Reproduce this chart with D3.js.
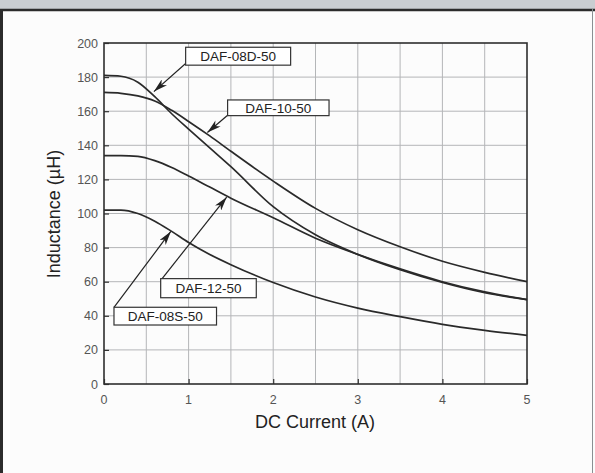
<!DOCTYPE html>
<html>
<head>
<meta charset="utf-8">
<script src="https://cdn.jsdelivr.net/npm/d3@7"></script>
<style>
  body { margin: 0; background: #fff; }
  svg { display: block; }
</style>
</head>
<body>
<div id="chart"></div>
<script>
// measured currents (A) shared by all curves
var currentA = [0, 0.2, 0.4, 0.6, 0.8, 1.0, 1.25, 1.5, 2, 2.5, 3, 3.5, 4, 4.5, 5];

// inductance (uH) for each part
var daf08D = [181, 180.5, 177, 168.5, 158.5, 149.5, 138.5, 127.5, 104, 87.5, 76, 67, 59.5, 53.5, 49.5];
var daf10  = [171, 170.5, 169, 166, 160.5, 154, 145.5, 136.5, 119, 103, 90.5, 80.5, 72, 65.5, 60];
var daf12  = [134, 134, 133.5, 131, 127, 122, 115.5, 109, 97.5, 85.5, 76, 67.5, 60, 54, 49.5];
var daf08S = [102, 102, 100, 95.5, 89.5, 83, 76, 70, 59.5, 51, 44.5, 39.5, 35, 31.5, 28.5];

var seriesNames = ["DAF-08D-50", "DAF-10-50", "DAF-12-50", "DAF-08S-50"];
var seriesValues = [daf08D, daf10, daf12, daf08S];

var xTicks = [0, 1, 2, 3, 4, 5];
var yTicks = [0, 20, 40, 60, 80, 100, 120, 140, 160, 180, 200];

// callout boxes, in data units: [x0, x1, yTop, yBottom], arrow from -> tip
var calloutBox  = [[0.965, 2.206, 197.5, 187], [1.461, 2.66, 166.6, 157.4], [0.67, 1.80, 61.8, 50.6], [0.118, 1.33, 45, 34.6]];
var calloutFrom = [[0.965, 188], [1.461, 157.6], [0.68, 61.4], [0.118, 44.9]];
var calloutTip  = [[0.59, 171.5], [1.222, 147.5], [1.45, 109.6], [0.79, 89.5]];

var W = 595, H = 473;
var svg = d3.select("#chart").append("svg")
    .attr("width", W).attr("height", H);

// page frame
svg.append("rect").attr("width", W).attr("height", H).attr("fill", "#fcfcfc");
svg.append("rect").attr("width", W).attr("height", 9).attr("fill", "#c9cdd1");
svg.append("line").attr("x1", 0).attr("x2", W).attr("y1", 10).attr("y2", 10)
    .attr("stroke", "#2b2b2b").attr("stroke-width", 2.5);
svg.append("line").attr("x1", 1.5).attr("x2", 1.5).attr("y1", 9).attr("y2", H)
    .attr("stroke", "#2b2b2b").attr("stroke-width", 3);
svg.append("line").attr("x1", 592.5).attr("x2", 592.5).attr("y1", 9).attr("y2", H)
    .attr("stroke", "#8a8f92").attr("stroke-width", 1);

var x = d3.scaleLinear().domain([0, 5]).range([104, 527]);
var y = d3.scaleLinear().domain([0, 200]).range([384, 43]);

var g = svg.append("g");

// grid
g.selectAll(".vgrid").data(d3.range(0.5, 5, 0.5)).enter().append("line")
    .attr("x1", function(d) { return x(d); }).attr("x2", function(d) { return x(d); })
    .attr("y1", y(0)).attr("y2", y(200))
    .attr("stroke", "#b4b6b8").attr("stroke-width", 1);
g.selectAll(".hgrid").data(yTicks.slice(1, -1)).enter().append("line")
    .attr("x1", x(0)).attr("x2", x(5))
    .attr("y1", function(d) { return y(d); }).attr("y2", function(d) { return y(d); })
    .attr("stroke", "#b4b6b8").attr("stroke-width", 1);

// axes with inward ticks
var xAxis = g.append("g").attr("transform", "translate(0," + y(0) + ")")
    .call(d3.axisTop(x).tickValues(xTicks).tickSize(5).tickFormat(""));
var yAxis = g.append("g").attr("transform", "translate(" + x(0) + ",0)")
    .call(d3.axisRight(y).tickValues(yTicks).tickSize(5).tickFormat(""));
[xAxis, yAxis].forEach(function(a) {
    a.select(".domain").remove();
    a.selectAll("line").attr("stroke", "#333").attr("stroke-width", 1.2);
});

g.append("rect")
    .attr("x", x(0)).attr("y", y(200))
    .attr("width", x(5) - x(0)).attr("height", y(0) - y(200))
    .attr("fill", "none").attr("stroke", "#2e2e2e").attr("stroke-width", 1.6);

// tick labels
g.selectAll(".xl").data(xTicks).enter().append("text")
    .attr("x", function(d) { return x(d); }).attr("y", 404)
    .attr("text-anchor", "middle")
    .attr("font-family", "Liberation Sans, Arial, sans-serif").attr("font-size", 12.5)
    .attr("fill", "#555").text(function(d) { return d; });
g.selectAll(".yl").data(yTicks).enter().append("text")
    .attr("x", 98).attr("y", function(d) { return y(d) + 4.5; })
    .attr("text-anchor", "end")
    .attr("font-family", "Liberation Sans, Arial, sans-serif").attr("font-size", 12.5)
    .attr("fill", "#555").text(function(d) { return d; });

// axis titles
svg.append("text").attr("x", 315).attr("y", 428).attr("text-anchor", "middle")
    .attr("font-family", "Liberation Sans, Arial, sans-serif").attr("font-size", 18)
    .attr("fill", "#222").text("DC Current (A)");
svg.append("text").attr("transform", "translate(60,214) rotate(-90)")
    .attr("text-anchor", "middle")
    .attr("font-family", "Liberation Sans, Arial, sans-serif").attr("font-size", 18)
    .attr("fill", "#222").text("Inductance (\u00b5H)");

// curves
var valueLine = d3.line()
    .x(function(d) { return x(d[0]); })
    .y(function(d) { return y(d[1]); })
    .curve(d3.curveMonotoneX);

g.selectAll(".curve").data(seriesValues).enter().append("path")
    .attr("d", function(vals) { return valueLine(currentA.map(function(c, i) { return [c, vals[i]]; })); })
    .attr("fill", "none").attr("stroke", "#2a2a2a").attr("stroke-width", 1.7);

// arrowhead
svg.append("defs").append("marker")
    .attr("id", "arrow").attr("viewBox", "0 0 14 8")
    .attr("refX", 14).attr("refY", 4)
    .attr("markerWidth", 14).attr("markerHeight", 8)
    .attr("markerUnits", "userSpaceOnUse")
    .attr("orient", "auto")
    .append("path").attr("d", "M0,0 L14,4 L0,8 L4,4 Z").attr("fill", "#222");

// callouts
seriesNames.forEach(function(name, i) {
    var b = calloutBox[i];
    g.append("line")
        .attr("x1", x(calloutFrom[i][0])).attr("y1", y(calloutFrom[i][1]))
        .attr("x2", x(calloutTip[i][0])).attr("y2", y(calloutTip[i][1]))
        .attr("stroke", "#222").attr("stroke-width", 1.2)
        .attr("marker-end", "url(#arrow)");
    g.append("rect")
        .attr("x", x(b[0])).attr("y", y(b[2]))
        .attr("width", x(b[1]) - x(b[0])).attr("height", y(b[3]) - y(b[2]))
        .attr("fill", "#fff").attr("stroke", "#333").attr("stroke-width", 1.2);
    g.append("text")
        .attr("x", (x(b[0]) + x(b[1])) / 2).attr("y", (y(b[2]) + y(b[3])) / 2 + 4.8)
        .attr("text-anchor", "middle")
        .attr("font-family", "Liberation Sans, Arial, sans-serif").attr("font-size", 13.5)
        .attr("fill", "#222").text(name);
});
</script>
</body>
</html>
